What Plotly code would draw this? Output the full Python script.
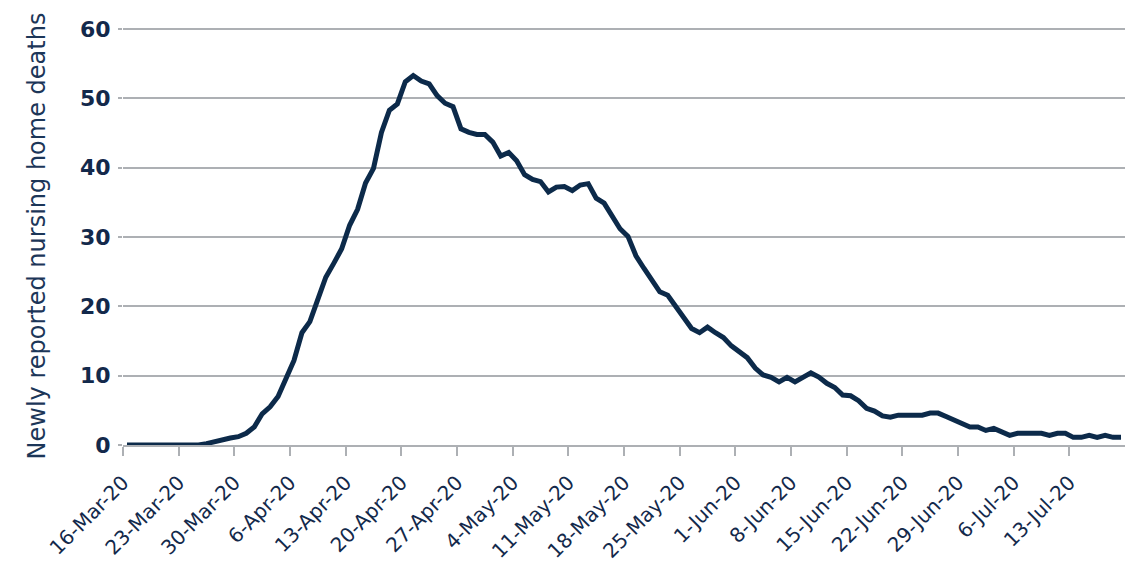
import pandas as pd
import plotly.graph_objects as go

start_date = "2020-03-16"
deaths = [
    0, 0, 0, 0, 0, 0, 0, 0, 0, 0,
    0.2, 0.5, 0.8, 1.0, 1.2, 1.7, 2.6, 4.5, 5.5, 7.0,
    9.6, 12.2, 16.2, 17.8, 21.0, 24.2, 26.2, 28.3, 31.7, 34.0,
    37.8, 39.9, 45.1, 48.3, 49.2, 52.4, 53.3, 52.5, 52.1, 50.4,
    49.3, 48.8, 45.6, 45.1, 44.8, 44.8, 43.7, 41.7, 42.2, 41.0,
    39.0, 38.3, 38.0, 36.5, 37.2, 37.3, 36.7, 37.5, 37.7, 35.6,
    34.9, 33.2, 31.2, 30.1, 27.3, 25.5, 23.8, 22.1, 21.6, 19.9,
    18.5, 16.8, 16.2, 17.0, 16.2, 15.5, 14.3, 13.4, 12.6, 11.1,
    10.1, 9.75, 9.1, 9.75, 9.1, 9.75, 10.4, 9.8, 8.9, 8.3,
    7.2, 7.1, 6.4, 5.3, 4.9, 4.2, 4.0, 4.3, 4.3, 4.3,
    4.3, 4.6, 4.6, 4.1, 3.6, 3.0, 2.6, 2.6, 2.1, 2.4,
    1.9, 1.4, 1.7, 1.7, 1.7, 1.7, 1.4, 1.7, 1.7, 1.1,
    1.1, 1.4, 1.1, 1.4, 1.1, 1.1,
]
tick_labels = [
    "16-Mar-20", "23-Mar-20", "30-Mar-20", "6-Apr-20", "13-Apr-20", "20-Apr-20",
    "27-Apr-20", "4-May-20", "11-May-20", "18-May-20", "25-May-20", "1-Jun-20",
    "8-Jun-20", "15-Jun-20", "22-Jun-20", "29-Jun-20", "6-Jul-20", "13-Jul-20",
]
y_ticks = [0, 10, 20, 30, 40, 50, 60]

dates = pd.date_range(start_date, periods=len(deaths), freq="D")
half_day = pd.Timedelta(hours=12)
tick_positions = pd.to_datetime(tick_labels, format="%d-%b-%y") - half_day

NAVY = "#0c2a4a"
TEXT = "#13294b"
GRID = "#adb0b4"

fig = go.Figure()
fig.add_trace(go.Scatter(
    x=dates, y=deaths, mode="lines",
    line=dict(color=NAVY, width=5),
    hoverinfo="x+y", showlegend=False,
))

fig.update_layout(
    width=1140, height=566,
    margin=dict(l=115, r=23, t=19, b=129),
    paper_bgcolor="white", plot_bgcolor="white",
    font=dict(family="DejaVu Sans", color=TEXT),
)
fig.update_xaxes(
    range=[dates[0] - half_day, dates[-1] + half_day],
    tickmode="array", tickvals=tick_positions, ticktext=tick_labels,
    tickangle=-45, tickfont=dict(size=20, color=TEXT, family="DejaVu Sans"),
    ticks="outside", ticklen=9, tickwidth=1.5, tickcolor=GRID,
    ticklabelstandoff=7,
    showline=True, linecolor=GRID, linewidth=2,
    showgrid=False, zeroline=False, automargin=False,
)
fig.update_yaxes(
    range=[0, 60.3], tickmode="array", tickvals=y_ticks,
    tickfont=dict(size=22, color=TEXT, family="DejaVu Sans", weight="bold"),
    ticks="outside", ticklen=4, tickwidth=1.5, tickcolor=GRID,
    ticklabelstandoff=3,
    showgrid=True, gridcolor=GRID, gridwidth=1.8,
    showline=False, zeroline=False, automargin=False,
    title=dict(text="Newly reported nursing home deaths",
               font=dict(size=24, color="#1c3658", family="DejaVu Sans"),
               standoff=27),
)

fig.write_html("out.html")
